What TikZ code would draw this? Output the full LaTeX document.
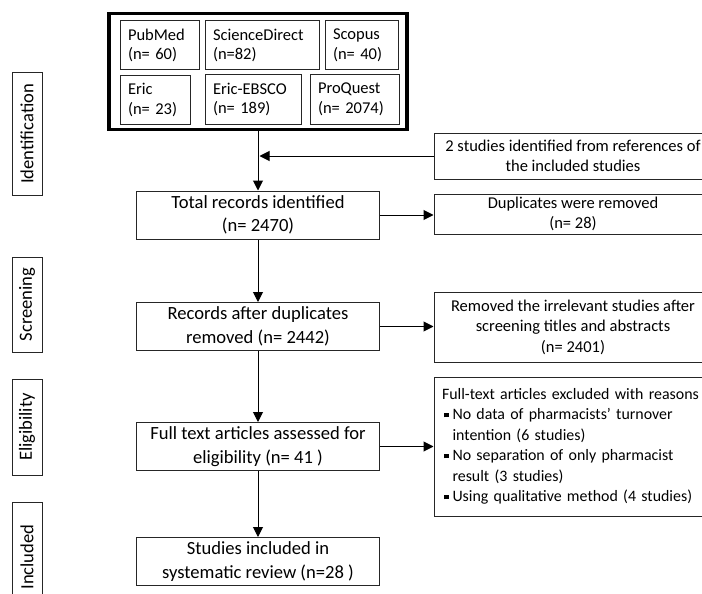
\documentclass[tikz,border=0pt]{standalone}
\usepackage{fontspec}
\setmainfont{Carlito}
\usetikzlibrary{arrows.meta}
\newcommand\bsq{\raisebox{2.5pt}{\rule{4.5pt}{4.5pt}}\hspace{4pt}}
\begin{document}
\begin{tikzpicture}[x=1pt,y=-1pt,
 box/.style={draw=black!85, line width=1pt, inner sep=0pt, align=center},
 dbbox/.style={draw=black!85, line width=1pt, inner xsep=8pt, inner ysep=0pt, align=left, minimum height=49pt, font=\fontsize{16.5}{19.5}\selectfont},
 mainbox/.style={box, minimum width=243pt, minimum height=48pt, font=\fontsize{18.6}{23.5}\selectfont},
 sidebox/.style={box, rotate=90, minimum height=30pt, font=\fontsize{18.6}{22}\selectfont},
 rbox/.style={box, minimum width=278pt, font=\fontsize{16.5}{20.5}\selectfont},
 arr/.style={draw=black, line width=1pt, -{Triangle[width=10pt,length=10pt]}}]
\clip (0,0) rectangle (702,594);
\fill[white] (0,0) rectangle (702,594);

% database group
\node[draw=black, line width=3.5pt, minimum width=298pt, minimum height=116pt, inner sep=0pt] (db) at (258,71.5) {};
\node[dbbox, text width=63pt] (pubmed) at (159.5,45.5) {PubMed\\(n= 60)};
\node[dbbox, text width=98pt] (sd) at (262,45.5) {ScienceDirect\\(n=82)};
\node[dbbox, text width=57pt] (scopus) at (361.5,45.5) {Scopus\\(n= 40)};
\node[dbbox, text width=54pt] (eric) at (155,100) {Eric\\(n= 23)};
\node[dbbox, text width=80pt] (ebsco) at (253,99.5) {Eric-EBSCO\\(n= 189)};
\node[dbbox, text width=73pt] (proquest) at (354.5,99.5) {ProQuest\\(n= 2074)};

% main column
\node[mainbox] (total) at (258,215) {Total records identified\\(n= 2470)};
\node[mainbox] (records) at (258,326.5) {Records after duplicates\\removed (n= 2442)};
\node[mainbox] (full) at (258,446.5) {Full text articles assessed for\\eligibility (n= 41 )};
\node[mainbox] (incl) at (258,561.5) {Studies included in\\systematic review (n=28 )};

% right column
\node[rbox, minimum height=46pt] (stud) at (573,156) {2 studies identified from references of\\the included studies};
\node[rbox, minimum height=40pt] (dup) at (573,214) {Duplicates were removed\\(n= 28)};
\node[rbox, minimum height=70pt] (irr) at (573,327) {Removed the irrelevant studies after\\screening titles and abstracts\\(n= 2401)};
\node[rbox, minimum height=139pt, text width=262pt, inner xsep=8pt, align=left, font=\fontsize{15.9}{20.5}\selectfont] (excl) at (573,446.5) {\mbox{Full-text articles excluded with reasons}\\
\mbox{\hspace*{2pt}\bsq No data of pharmacists’ turnover}\\
\mbox{\hspace*{10.5pt}intention (6 studies)}\\
\mbox{\hspace*{2pt}\bsq No separation of only pharmacist}\\
\mbox{\hspace*{10.5pt}result (3 studies)}\\
\mbox{\hspace*{2pt}\bsq Using qualitative method (4 studies)}};

% side labels
\node[sidebox, minimum width=122pt] (sidid) at (27,134) {Identification};
\node[sidebox, minimum width=95pt] (sidscr) at (27,304.5) {Screening};
\node[sidebox, minimum width=96pt] (sidel) at (27,427) {Eligibility};
\node[sidebox, minimum width=110pt] (sidinc) at (27,557) {Included};

% connectors
\draw[arr] (db.south) -- (total.north);
\draw[arr, shorten >=1.5pt] (stud.west) -- (stud.west -| total.north);
\draw[arr] (total.east) -- (dup.west |- total.east);
\draw[arr] (total.south) -- (records.north);
\draw[arr] (records.east) -- (irr.west |- records.east);
\draw[arr] (records.south) -- (full.north);
\draw[arr] (full.east) -- (excl.west |- full.east);
\draw[arr] (full.south) -- (incl.north);
\end{tikzpicture}
\end{document}
